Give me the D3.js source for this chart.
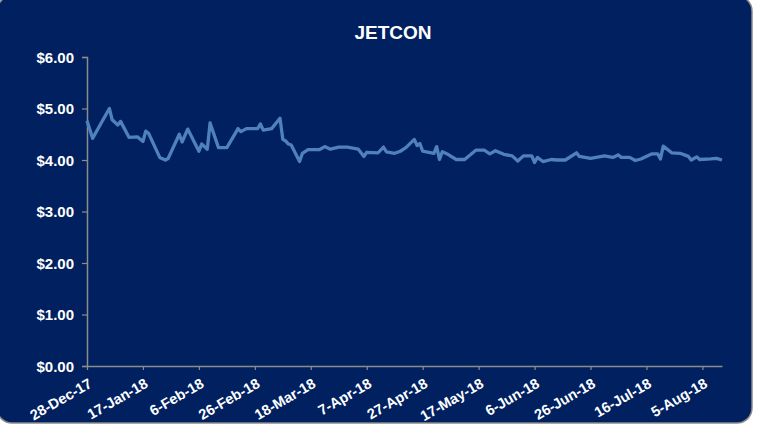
<!DOCTYPE html>
<html>
<head>
<meta charset="utf-8">
<script src="https://cdn.jsdelivr.net/npm/d3@7"></script>
<style>
  html, body { margin: 0; padding: 0; background: #ffffff; }
  svg { display: block; }
</style>
</head>
<body>
<svg id="chart" width="767" height="434"></svg>
<script>
// ---- data ----
const title = "JETCON";
const dates = [
  "2017-12-28","2017-12-30","2018-01-05","2018-01-06","2018-01-08","2018-01-09","2018-01-12","2018-01-15",
  "2018-01-17","2018-01-18","2018-01-19","2018-01-23","2018-01-25","2018-01-26","2018-01-30","2018-01-31",
  "2018-02-02","2018-02-06","2018-02-07","2018-02-09","2018-02-10","2018-02-13","2018-02-16","2018-02-20",
  "2018-02-21","2018-02-23","2018-02-27","2018-02-28","2018-03-01","2018-03-04","2018-03-07","2018-03-08",
  "2018-03-09","2018-03-10","2018-03-11","2018-03-14","2018-03-15","2018-03-17","2018-03-21","2018-03-23",
  "2018-03-25","2018-03-28","2018-03-31","2018-04-04","2018-04-06","2018-04-07","2018-04-11","2018-04-13",
  "2018-04-14","2018-04-17","2018-04-19","2018-04-21","2018-04-24","2018-04-25","2018-04-26","2018-04-27",
  "2018-05-01","2018-05-02","2018-05-03","2018-05-04","2018-05-06","2018-05-09","2018-05-12","2018-05-16",
  "2018-05-19","2018-05-21","2018-05-23","2018-05-26","2018-05-29","2018-05-31","2018-06-02","2018-06-05",
  "2018-06-06","2018-06-07","2018-06-09","2018-06-12","2018-06-14","2018-06-17","2018-06-21","2018-06-22",
  "2018-06-26","2018-07-01","2018-07-04","2018-07-06","2018-07-07","2018-07-10","2018-07-12","2018-07-14",
  "2018-07-18","2018-07-20","2018-07-21","2018-07-22","2018-07-25","2018-07-28","2018-07-31","2018-08-01",
  "2018-08-03","2018-08-04","2018-08-08","2018-08-10","2018-08-12"
];
const prices = [
  4.76,4.42,5.00,4.78,4.68,4.75,4.44,4.45,
  4.36,4.56,4.52,4.05,4.00,4.03,4.50,4.35,
  4.60,4.17,4.31,4.21,4.72,4.24,4.24,4.61,
  4.55,4.61,4.61,4.70,4.58,4.61,4.81,4.40,
  4.37,4.31,4.29,3.97,4.13,4.20,4.20,4.26,
  4.21,4.25,4.25,4.21,4.07,4.15,4.14,4.25,
  4.16,4.13,4.17,4.24,4.40,4.28,4.32,4.17,
  4.13,4.26,4.01,4.16,4.11,4.01,4.01,4.19,
  4.19,4.12,4.18,4.11,4.08,3.98,4.08,4.08,
  3.95,4.05,3.97,4.01,4.00,4.00,4.14,4.07,
  4.03,4.08,4.05,4.10,4.05,4.05,3.99,4.02,
  4.12,4.12,4.02,4.27,4.14,4.13,4.07,4.00,
  4.06,4.01,4.02,4.03,4.00
];
const yTicks = [0, 1, 2, 3, 4, 5, 6];
const xStart = "2017-12-28";
const xEnd = "2018-08-12";
const xTickStepDays = 20;
const xTickCount = 12;

// ---- drawing ----
(function () {
const parse = d3.utcParse("%Y-%m-%d");
const data = dates.map((d, i) => ({ date: parse(d), value: prices[i] }));
const svg = d3.select("#chart");

const mLeft = 87, mRight = 722, mTop = 57, mBottom = 366;

svg.append("rect")
  .attr("x", -3).attr("y", -4).attr("width", 755).attr("height", 427)
  .attr("rx", 15).attr("ry", 15)
  .attr("fill", "#002060").attr("stroke", "#8a8a8a").attr("stroke-width", 1.5);

const x = d3.scaleUtc().domain([parse(xStart), parse(xEnd)]).range([mLeft, mRight]);
const y = d3.scaleLinear().domain([0, 6]).range([mBottom, mTop]);

svg.append("text")
  .attr("x", 393).attr("y", 39)
  .attr("text-anchor", "middle")
  .attr("fill", "#ffffff")
  .attr("font-family", "Liberation Sans, Arial, sans-serif")
  .attr("font-weight", "bold").attr("font-size", 19)
  .text(title);

const xTickVals = d3.range(xTickCount).map(i => d3.utcDay.offset(parse(xStart), i * xTickStepDays));
const fmt = d3.utcFormat("%-d-%b-%y");

const yAxis = svg.append("g").attr("transform", `translate(${mLeft},0)`)
  .call(d3.axisLeft(y).tickValues(yTicks).tickSize(5).tickPadding(8)
    .tickFormat(d => "$" + d3.format(".2f")(d)));
const xAxis = svg.append("g").attr("transform", `translate(0,${mBottom})`)
  .call(d3.axisBottom(x).tickValues(xTickVals).tickSize(4).tickSizeOuter(0).tickFormat(fmt));

[yAxis, xAxis].forEach(g => {
  g.select(".domain").attr("stroke", "#8c8c8c").attr("stroke-width", 1.5);
  g.selectAll(".tick line").attr("stroke", "#8c8c8c").attr("stroke-width", 1.2);
  g.selectAll("text").attr("fill", "#ffffff")
    .attr("font-family", "Liberation Sans, Arial, sans-serif")
    .attr("font-weight", "bold").attr("font-size", 15);
});
yAxis.selectAll("text").attr("dy", "0.35em");
xAxis.selectAll("text")
  .attr("text-anchor", "end")
  .attr("dy", "0.35em")
  .attr("font-size", 14.5)
  .attr("transform", "translate(3,16) rotate(-30)")
  .attr("y", 0).attr("x", 0);

const line = d3.line().x(d => x(d.date)).y(d => y(d.value));
svg.append("path").datum(data)
  .attr("d", line)
  .attr("fill", "none")
  .attr("stroke", "#4F81BD")
  .attr("stroke-width", 3.3)
  .attr("stroke-linejoin", "round");
})();
</script>
</body>
</html>
